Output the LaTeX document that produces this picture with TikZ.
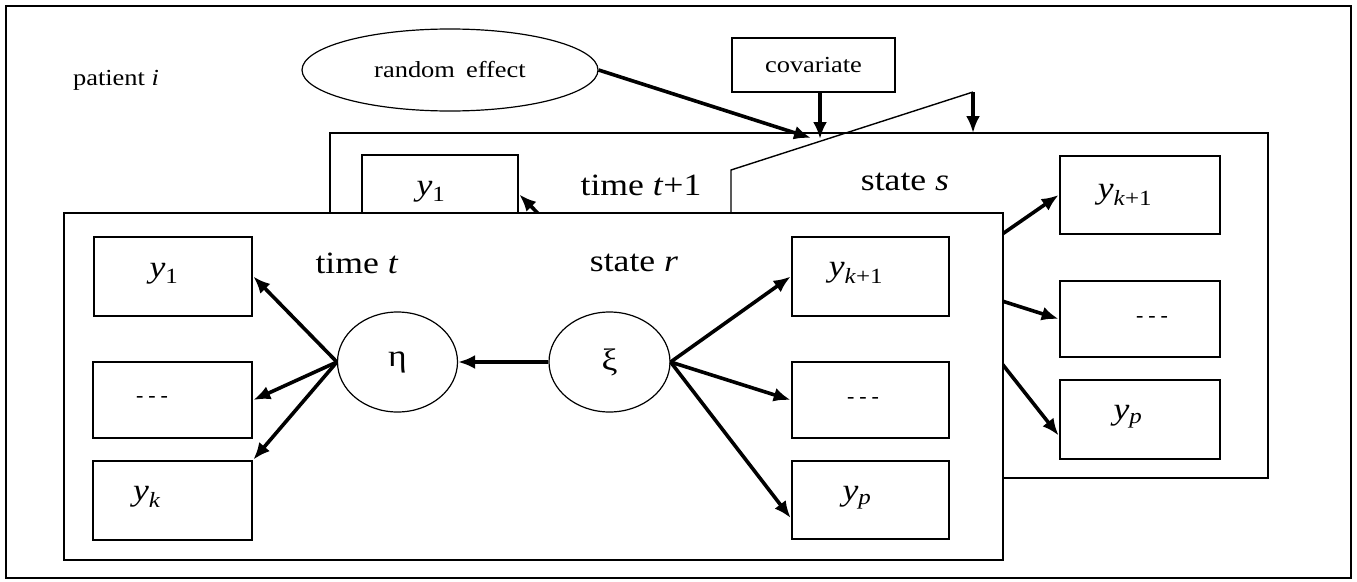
\documentclass[tikz,border=0pt]{standalone}
\usepackage{fontspec}
\usepackage{graphicx}
\setmainfont{Liberation Serif}
\usetikzlibrary{arrows.meta,shapes.geometric,calc}
\newcommand{\bigt}[1]{\scalebox{1.15}[1]{\fontsize{31}{36}\selectfont #1}}
\newcommand{\smt}[1]{\scalebox{1.15}[1]{\fontsize{23}{28}\selectfont #1}}
\newcommand{\yv}[1]{\textit{y}\textsubscript{#1}}
\newcommand{\dotsx}{\raisebox{0.2ex}{\fontsize{22}{24}\selectfont -\hspace{5pt}-\hspace{5pt}-}}
\tikzset{
  frame/.style={draw, line width=2.3pt, fill=white, inner sep=0pt},
  obox/.style={draw, line width=2.7pt, fill=white, inner sep=0pt},
  lat/.style={draw, ellipse, line width=1.2pt, inner sep=0pt},
  arr/.style={-{Latex[length=17pt,width=14pt]}, line width=3.6pt},
  thinl/.style={line width=1.4pt},
  lbl/.style={inner sep=0pt}
}
\begin{document}
\begin{tikzpicture}[x=1pt,y=-1pt]
\useasboundingbox (0,0) rectangle (1357,581);
% outer frame
\node[draw, line width=2.6pt, inner sep=0pt, minimum width=1345, minimum height=572] (outer) at (678.5,292) {};
\node[lbl] (pat) at (116,80) {\smt{patient \textit{i}}};
\node[lat, minimum width=296, minimum height=82] (re) at (450,70) {\smt{random\, effect}};
\node[obox, minimum width=163, minimum height=54] (cov) at (813.5,65) {\smt{covariate}};

% back frame (time t+1)
\node[frame, minimum width=938, minimum height=345] (bf) at (799,305.5) {};
\node[obox, minimum width=156, minimum height=79] (y1b) at (440,194.5) {};
\node[lbl] (ty1b) at (431,192) {\bigt{\yv{1}}};
\node[lbl] (tb) at (641,185) {\bigt{time \textit{t}+1}};
\node[lbl] (sb) at (905,182) {\bigt{state \textit{s}}};
\node[obox, minimum width=160, minimum height=78] (yk1b) at (1140,195) {};
\node[lbl] (tyk1b) at (1125,195) {\bigt{\yv{\textit{k}+1}}};
\node[obox, minimum width=160, minimum height=76] (db) at (1140,319) {};
\node[lbl] (tdb) at (1152,320) {\dotsx};
\node[obox, minimum width=160, minimum height=79] (ypb) at (1140,419.5) {};
\node[lbl] (typb) at (1128,417) {\bigt{\yv{\textit{p}}}};
\coordinate (etab) at (604,280);
\coordinate (xib) at (936,280);
\draw[arr] (etab) -- (y1b.east);
\draw[arr] (xib) -- (yk1b.west);
\draw[arr] (xib) -- (db.west);
\draw[arr] (xib) -- ($(ypb.west)+(0,16)$);

% front frame (time t)
\node[frame, minimum width=939, minimum height=347] (ff) at (533.5,386.5) {};
\node[lbl] (tf) at (357,263) {\bigt{time \textit{t}}};
\node[lbl] (sf) at (634,263) {\bigt{state \textit{r}}};
\node[obox, minimum width=158, minimum height=79] (y1f) at (173,276.5) {};
\node[lbl] (ty1f) at (164,274) {\bigt{\yv{1}}};
\node[obox, minimum width=159, minimum height=76] (df) at (172.5,400) {};
\node[lbl] (tdf) at (152,400) {\dotsx};
\node[obox, minimum width=159, minimum height=79] (ykf) at (172.5,500.5) {};
\node[lbl] (tykf) at (147,497) {\bigt{\yv{\textit{k}}}};
\node[obox, minimum width=157, minimum height=79] (yk1f) at (870.5,276.5) {};
\node[lbl] (tyk1f) at (856,273) {\bigt{\yv{\textit{k}+1}}};
\node[obox, minimum width=157, minimum height=76] (dff) at (870.5,400) {};
\node[lbl] (tdff) at (863,401) {\dotsx};
\node[obox, minimum width=157, minimum height=78] (ypf) at (870.5,500) {};
\node[lbl] (typf) at (857,498) {\bigt{\yv{\textit{p}}}};
\node[lat, minimum width=120, minimum height=100] (eta) at (397.5,362) {\bigt{η}};
\node[lat, minimum width=121, minimum height=100] (xi) at (609.5,362) {\bigt{ξ}};
\draw[arr] (xi.west) -- (eta.east);
\draw[arr] (eta.west) -- (y1f.east);
\draw[arr] (eta.west) -- (df.east);
\draw[arr] (eta.west) -- (ykf.north east);
\draw[arr] (xi.east) -- (yk1f.west);
\draw[arr] (xi.east) -- (dff.west);
\draw[arr] (xi.east) -- ($(ypf.west)+(0,18)$);

% top connectors
\coordinate (c1) at (811,138);
\coordinate (c2) at (820,139);
\draw[arr] (re.east) -- (c1);
\draw[arr] (cov.south -| c2) -- (c2);
\coordinate (p0) at (731,213);
\coordinate (p1) at (731,170);
\coordinate (p2) at (973,92);
\coordinate (p3) at (973,133);
\draw[thinl] (p0) -- (p1) -- (p2);
\draw[arr] (p2) -- (p3);
\end{tikzpicture}
\end{document}
